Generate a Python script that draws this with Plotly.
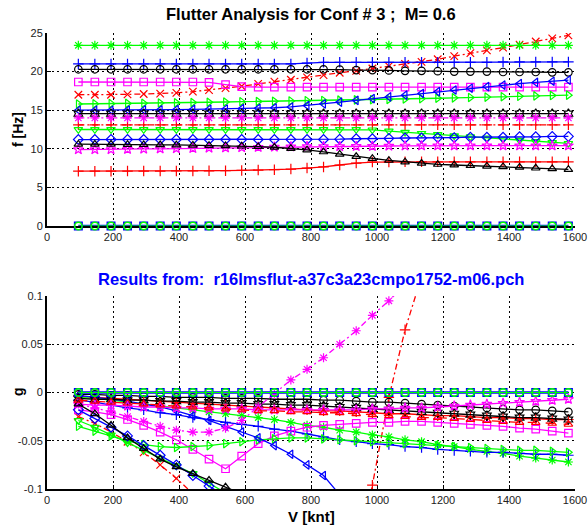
import plotly.graph_objects as go
from plotly.subplots import make_subplots

# ---------------- data ----------------
V_KNT = [95, 145, 194, 244, 293, 343, 392, 442, 491, 541, 590, 640, 689, 739, 788, 838,
         887, 937, 986, 1036, 1085, 1135, 1184, 1234, 1283, 1333, 1382, 1432, 1481, 1531, 1580]

# frequencies [Hz]
F_RIGID_A = [0.0, 0.0, 0.0, 0.0, 0.0, 0.0, 0.0, 0.0, 0.0, 0.0, 0.0, 0.0, 0.0, 0.0, 0.0, 0.0,
             0.0, 0.0, 0.0, 0.0, 0.0, 0.0, 0.0, 0.0, 0.0, 0.0, 0.0, 0.0, 0.0, 0.0, 0.0]
F_RIGID_B = [0.0, 0.0, 0.0, 0.0, 0.0, 0.0, 0.0, 0.0, 0.0, 0.0, 0.0, 0.0, 0.0, 0.0, 0.0, 0.0,
             0.0, 0.0, 0.0, 0.0, 0.0, 0.0, 0.0, 0.0, 0.0, 0.0, 0.0, 0.0, 0.0, 0.0, 0.0]
F_RED_PLUS = [7.10, 7.10, 7.10, 7.11, 7.12, 7.12, 7.13, 7.14, 7.15, 7.17, 7.20, 7.24, 7.30, 7.38, 7.50, 7.65,
              7.90, 8.15, 8.28, 8.30, 8.31, 8.31, 8.31, 8.31, 8.31, 8.31, 8.31, 8.31, 8.31, 8.31, 8.31]
F_RED_PLUS_DD = [13.1, 13.1, 13.1, 13.1, 13.1, 13.1, 13.1, 13.1, 13.1, 13.1, 13.1, 13.1, 13.1, 13.1, 13.1, 13.1,
                 13.1, 13.1, 13.1, 13.1, 13.1, 13.1, 13.1, 13.1, 13.1, 13.1, 13.1, 13.1, 13.1, 13.1, 13.1]
F_RED_X = [17.0, 17.0, 17.0, 17.05, 17.1, 17.15, 17.25, 17.4, 17.6, 17.85, 18.1, 18.4, 18.7, 18.95, 19.25, 19.55,
           19.85, 20.1, 20.4, 20.7, 21.0, 21.25, 21.6, 22.0, 22.4, 22.75, 23.1, 23.5, 23.9, 24.3, 24.7]
F_GREEN_STAR = [23.4, 23.4, 23.4, 23.4, 23.4, 23.4, 23.4, 23.4, 23.4, 23.4, 23.4, 23.4, 23.4, 23.4, 23.4, 23.4,
                23.4, 23.4, 23.4, 23.4, 23.4, 23.4, 23.4, 23.4, 23.4, 23.4, 23.4, 23.4, 23.4, 23.4, 23.4]
F_BLUE_PLUS = [21.0, 21.0, 21.0, 21.0, 21.0, 21.0, 21.0, 21.0, 21.0, 21.0, 21.0, 21.0, 21.0, 21.0, 21.1, 21.2,
               21.2, 21.2, 21.2, 21.2, 21.2, 21.2, 21.2, 21.2, 21.2, 21.2, 21.25, 21.25, 21.25, 21.25, 21.25]
F_BLACK_O = [20.3, 20.3, 20.3, 20.3, 20.3, 20.3, 20.3, 20.3, 20.3, 20.3, 20.3, 20.3, 20.3, 20.3, 20.3, 20.3,
             20.25, 20.2, 20.2, 20.15, 20.1, 20.1, 20.05, 20.0, 20.0, 20.0, 19.95, 19.95, 19.95, 19.9, 19.9]
F_MAG_SQ = [18.65, 18.65, 18.65, 18.65, 18.65, 18.65, 18.65, 18.65, 18.6, 18.3, 18.05, 18.0, 18.0, 18.0, 18.0, 18.0,
            18.0, 18.0, 18.0, 18.0, 18.0, 18.0, 18.0, 18.0, 18.0, 18.0, 18.0, 18.0, 18.0, 18.0, 18.0]
F_GREEN_TR = [15.8, 15.82, 15.85, 15.88, 15.9, 15.93, 15.96, 16.0, 16.03, 16.06, 16.1, 16.13, 16.16, 16.2, 16.23, 16.26,
              16.3, 16.33, 16.36, 16.4, 16.45, 16.5, 16.55, 16.6, 16.65, 16.7, 16.75, 16.8, 16.85, 16.9, 16.95]
F_BLUE_TL = [15.0, 15.0, 15.0, 15.02, 15.04, 15.06, 15.08, 15.1, 15.13, 15.16, 15.2, 15.25, 15.32, 15.42, 15.6, 15.82,
             16.05, 16.28, 16.5, 16.72, 16.95, 17.17, 17.4, 17.62, 17.85, 18.05, 18.25, 18.45, 18.6, 18.75, 18.9]
F_BLACK_HEX = [14.55, 14.55, 14.55, 14.55, 14.55, 14.55, 14.55, 14.55, 14.55, 14.55, 14.55, 14.55, 14.55, 14.55, 14.55, 14.55,
               14.55, 14.55, 14.55, 14.55, 14.55, 14.55, 14.55, 14.55, 14.55, 14.55, 14.55, 14.55, 14.55, 14.55, 14.55]
F_MAG_X = [14.0, 14.0, 14.0, 14.0, 14.0, 14.0, 14.0, 14.0, 14.0, 14.0, 14.0, 14.0, 14.0, 14.0, 14.0, 14.0,
           14.0, 14.0, 14.0, 14.0, 14.0, 14.0, 14.0, 14.0, 14.0, 14.0, 14.0, 14.0, 14.0, 14.0, 14.0]
F_GREEN_TD = [12.5, 12.5, 12.5, 12.5, 12.5, 12.5, 12.5, 12.5, 12.5, 12.5, 12.5, 12.5, 12.5, 12.5, 12.5, 12.5,
              12.5, 12.5, 12.45, 12.3, 12.15, 12.0, 11.85, 11.7, 11.55, 11.4, 11.25, 11.1, 10.95, 10.82, 10.7]
F_BLUE_DIA = [11.2, 11.2, 11.2, 11.2, 11.2, 11.2, 11.2, 11.2, 11.2, 11.2, 11.2, 11.2, 11.2, 11.2, 11.2, 11.2,
              11.25, 11.3, 11.3, 11.35, 11.4, 11.4, 11.45, 11.45, 11.5, 11.5, 11.5, 11.55, 11.55, 11.6, 11.6]
F_MAG_STAR = [9.9, 9.9, 9.92, 9.95, 9.98, 10.0, 10.03, 10.06, 10.1, 10.13, 10.16, 10.2, 10.23, 10.26, 10.3, 10.3,
              10.3, 10.32, 10.34, 10.36, 10.38, 10.4, 10.4, 10.4, 10.4, 10.4, 10.4, 10.4, 10.4, 10.4, 10.4]
F_BLACK_TU = [10.6, 10.6, 10.58, 10.56, 10.54, 10.52, 10.5, 10.47, 10.44, 10.4, 10.35, 10.28, 10.2, 10.05, 9.85, 9.6,
              9.3, 9.0, 8.75, 8.5, 8.3, 8.12, 7.98, 7.9, 7.82, 7.75, 7.68, 7.6, 7.5, 7.42, 7.33]

# damping g
G_RIGID_A = [0.0, 0.0, 0.0, 0.0, 0.0, 0.0, 0.0, 0.0, 0.0, 0.0, 0.0, 0.0, 0.0, 0.0, 0.0, 0.0,
             0.0, 0.0, 0.0, 0.0, 0.0, 0.0, 0.0, 0.0, 0.0, 0.0, 0.0, 0.0, 0.0, 0.0, 0.0]
G_RIGID_B = [0.0, 0.0, 0.0, 0.0, 0.0, 0.0, 0.0, 0.0, 0.0, 0.0, 0.0, 0.0, 0.0, 0.0, 0.0, 0.0,
             0.0, 0.0, 0.0, 0.0, 0.0, 0.0, 0.0, 0.0, 0.0, 0.0, 0.0, 0.0, 0.0, 0.0, 0.0]
G_RED_PLUS = [-0.004, -0.005, -0.006, -0.007, -0.008, -0.009, -0.010, -0.011, -0.012, -0.013, -0.014, -0.015, -0.016,
              -0.017, -0.018, -0.019, -0.019, -0.020, -0.021, -0.022, -0.022, -0.023, -0.024, -0.024, -0.025, -0.026,
              -0.026, -0.027, -0.027, -0.028, -0.028]
G_RED_PLUS_DD = [None, None, None, None, None, None, None, None, None, None, None, None, None, None, None, None,
                 None, -0.19, -0.096, -0.005, 0.065, 0.12, None, None, None, None, None, None, None, None, None]
G_RED_X = [-0.025, -0.032, -0.041, -0.051, -0.062, -0.075, -0.089, -0.104, -0.12, None, None, None, None, None, None,
           None, None, None, None, None, None, None, None, None, None, None, None, None, None, None, None]
G_GREEN_STAR = [-0.005, -0.006, -0.008, -0.010, -0.012, -0.014, -0.016, -0.018, -0.020, -0.022, -0.024, -0.026, -0.028,
                -0.031, -0.034, -0.036, -0.039, -0.041, -0.044, -0.046, -0.049, -0.051, -0.054, -0.056, -0.059, -0.061,
                -0.063, -0.066, -0.068, -0.070, -0.072]
G_BLUE_PLUS = [-0.008, -0.010, -0.013, -0.016, -0.018, -0.021, -0.023, -0.026, -0.028, -0.031, -0.033, -0.035, -0.038,
               -0.040, -0.043, -0.046, -0.049, -0.051, -0.053, -0.054, -0.056, -0.057, -0.059, -0.060, -0.061, -0.062,
               -0.062, -0.063, -0.064, -0.064, -0.065]
G_BLACK_O = [-0.002, -0.002, -0.003, -0.003, -0.004, -0.004, -0.005, -0.005, -0.005, -0.006, -0.006, -0.006, -0.007,
             -0.007, -0.007, -0.008, -0.008, -0.009, -0.010, -0.010, -0.011, -0.012, -0.013, -0.014, -0.015, -0.016,
             -0.017, -0.018, -0.018, -0.019, -0.020]
G_MAG_SQ = [-0.018, -0.020, -0.023, -0.028, -0.034, -0.041, -0.049, -0.059, -0.069, -0.079, -0.066, -0.053, -0.045,
            -0.040, -0.036, -0.034, -0.033, -0.032, -0.031, -0.031, -0.030, -0.030, -0.031, -0.032, -0.033, -0.034,
            -0.035, -0.037, -0.038, -0.040, -0.042]
G_GREEN_TR = [-0.035, -0.040, -0.045, -0.050, -0.054, -0.056, -0.057, -0.056, -0.055, -0.053, -0.051, -0.049, -0.048,
              -0.047, -0.047, -0.048, -0.049, -0.050, -0.051, -0.052, -0.053, -0.054, -0.055, -0.056, -0.057, -0.058,
              -0.059, -0.060, -0.060, -0.061, -0.062]
G_BLUE_TL = [-0.003, -0.005, -0.007, -0.009, -0.012, -0.015, -0.019, -0.024, -0.029, -0.035, -0.041, -0.047, -0.055,
             -0.064, -0.075, -0.086, -0.106, None, None, None, None, None, None, None, None, None, None, None, None,
             None, None]
G_BLACK_HEX = [-0.006, -0.007, -0.007, -0.008, -0.008, -0.009, -0.009, -0.010, -0.010, -0.011, -0.011, -0.012, -0.012,
               -0.013, -0.013, -0.014, -0.015, -0.016, -0.017, -0.018, -0.019, -0.020, -0.021, -0.022, -0.023, -0.024,
               -0.025, -0.026, -0.026, -0.027, -0.028]
G_MAG_X = [-0.012, -0.016, -0.020, -0.025, -0.030, -0.035, -0.039, -0.041, -0.041, -0.037, -0.029, -0.015, -0.002,
           0.013, 0.024, 0.036, 0.050, 0.064, 0.080, 0.095, 0.112, None, None, None, None, None, None, None, None,
           None, None]
G_GREEN_TD = [-0.029, -0.036, -0.044, -0.052, -0.060, -0.068, -0.076, -0.084, -0.094, -0.104, None, None, None, None,
              None, None, None, None, None, None, None, None, None, None, None, None, None, None, None, None, None]
G_BLUE_DIA = [-0.018, -0.027, -0.036, -0.045, -0.055, -0.065, -0.075, -0.086, -0.097, -0.108, None, None, None, None,
              None, None, None, None, None, None, None, None, None, None, None, None, None, None, None, None, None]
G_MAG_STAR = [-0.012, -0.013, -0.013, -0.014, -0.015, -0.015, -0.016, -0.016, -0.017, -0.017, -0.017, -0.018, -0.018,
              -0.018, -0.018, -0.018, -0.018, -0.018, -0.017, -0.017, -0.016, -0.016, -0.015, -0.014, -0.013, -0.012,
              -0.011, -0.010, -0.009, -0.008, -0.007]
G_BLACK_TU = [-0.012, -0.022, -0.034, -0.047, -0.058, -0.069, -0.077, -0.084, -0.091, -0.098, -0.105, None, None, None,
              None, None, None, None, None, None, None, None, None, None, None, None, None, None, None, None, None]
G_RED_TU = [-0.008, -0.009, -0.010, -0.011, -0.012, -0.013, -0.014, -0.015, -0.016, -0.017, -0.018, -0.019, -0.019,
            -0.020, -0.020, -0.021, -0.021, -0.022, -0.023, -0.024, -0.025, -0.026, -0.026, -0.027, -0.028, -0.029,
            -0.030, -0.031, -0.031, -0.032, -0.033]

X_TICKS = [0, 200, 400, 600, 800, 1000, 1200, 1400, 1600]
F_TICKS = [0, 5, 10, 15, 20, 25]
G_TICKS = [-0.1, -0.05, 0, 0.05, 0.1]
G_TICK_TEXT = ["-0.1", "-0.05", "0", "0.05", "0.1"]

RED, GREEN, BLUE, BLACK, MAG = "#ff0000", "#00ff00", "#0000ff", "#000000", "#ff00ff"
DASHDOT = "6px,3px,2px,3px"

# (f, g, colour, symbol, dash)
MODES = [
    (F_RED_PLUS, G_RED_PLUS, RED, "cross-thin-open", "solid"),
    (F_RED_PLUS_DD, G_RED_PLUS_DD, RED, "cross-thin-open", DASHDOT),
    (F_RED_X, G_RED_X, RED, "x-thin-open", DASHDOT),
    (F_GREEN_STAR, G_GREEN_STAR, GREEN, "asterisk-open", "solid"),
    (F_BLUE_PLUS, G_BLUE_PLUS, BLUE, "cross-thin-open", "solid"),
    (F_BLACK_O, G_BLACK_O, BLACK, "circle-open", "solid"),
    (F_MAG_SQ, G_MAG_SQ, MAG, "square-open", "solid"),
    (F_GREEN_TR, G_GREEN_TR, GREEN, "triangle-right-open", "solid"),
    (F_BLUE_TL, G_BLUE_TL, BLUE, "triangle-left-open", "solid"),
    (F_BLACK_HEX, G_BLACK_HEX, BLACK, "hexagram-open", "solid"),
    (F_MAG_X, G_MAG_X, MAG, "asterisk-open", DASHDOT),
    (F_GREEN_TD, G_GREEN_TD, GREEN, "triangle-down-open", "solid"),
    (F_BLUE_DIA, G_BLUE_DIA, BLUE, "diamond-open", "solid"),
    (F_MAG_STAR, G_MAG_STAR, MAG, "star-open", "solid"),
    (F_BLACK_TU, G_BLACK_TU, BLACK, "triangle-up-open", "solid"),
    (None, G_RED_TU, RED, "triangle-up-open", "dash"),
]
RIGID = [
    (F_RIGID_A, G_RIGID_A, BLUE, "square-open", 2.5),
    (F_RIGID_B, G_RIGID_B, GREEN, "circle-open", 1),
]

fig = make_subplots(rows=2, cols=1, vertical_spacing=70 / 456)

for f, g, col, sym, dash in MODES:
    mk = dict(symbol=sym, size=7.5, color=col, line=dict(color=col, width=1.2))
    ln = dict(color=col, width=1.3, dash=dash)
    if f is not None:
        fig.add_trace(go.Scatter(x=V_KNT, y=f, mode="lines+markers", line=ln, marker=mk,
                                 showlegend=False, hoverinfo="skip"), row=1, col=1)
    fig.add_trace(go.Scatter(x=V_KNT, y=g, mode="lines+markers", line=ln, marker=mk,
                             showlegend=False, hoverinfo="skip"), row=2, col=1)

for f, g, col, sym, lw in RIGID:
    mk = dict(symbol=sym, size=7.5, color=col, line=dict(color=col, width=1.5))
    ln = dict(color=col, width=lw)
    fig.add_trace(go.Scatter(x=V_KNT, y=f, mode="lines+markers", line=ln, marker=mk, cliponaxis=False,
                             showlegend=False, hoverinfo="skip"), row=1, col=1)
    fig.add_trace(go.Scatter(x=V_KNT, y=g, mode="lines+markers", line=ln, marker=mk, cliponaxis=False,
                             showlegend=False, hoverinfo="skip"), row=2, col=1)

ax_common = dict(showline=True, linewidth=2, linecolor="black", ticks="inside", ticklen=4,
                 tickcolor="black", showgrid=True, gridcolor="black", gridwidth=1,
                 griddash="2px,3px", zeroline=False, mirror=False, layer="below traces",
                 automargin=False,
                 tickfont=dict(family="Liberation Sans, Arial", size=11, color="#222"))

fig.update_xaxes(range=[0, 1600], tickvals=X_TICKS, **ax_common)
fig.update_yaxes(range=[0, 25], tickvals=F_TICKS, row=1, col=1, **ax_common)
fig.update_yaxes(range=[-0.1, 0.1], tickvals=G_TICKS, ticktext=G_TICK_TEXT, row=2, col=1, **ax_common)

bold = dict(family="Liberation Sans, Arial", color="black")
fig.update_layout(
    width=588, height=529,
    margin=dict(l=47, r=13, t=33, b=40, autoexpand=False),
    paper_bgcolor="white", plot_bgcolor="white",
    showlegend=False,
    hovermode=False,
    annotations=[
        dict(text="<b>Flutter Analysis for Conf # 3 ;\u00a0\u00a0M= 0.6</b>", xref="paper", yref="paper",
             x=0.5, y=1 + 19 / 456, xanchor="center", yanchor="middle", showarrow=False,
             font=dict(size=16.5, **bold)),
        dict(text="<b>Results from:\u00a0\u00a0r16lmsflut-a37c3a23cmpo1752-m06.pch</b>", xref="paper", yref="paper",
             x=0.5, y=(489 - 279) / 456, xanchor="center", yanchor="middle", showarrow=False,
             font=dict(size=16.5, family="Liberation Sans, Arial", color="#0000ff")),
        dict(text="<b>f [Hz]</b>", xref="paper", yref="paper", x=(18 - 47) / 528, y=(489 - 130) / 456,
             xanchor="center", yanchor="middle", textangle=-90, showarrow=False, font=dict(size=14, **bold)),
        dict(text="<b>g</b>", xref="paper", yref="paper", x=(18 - 47) / 528, y=(489 - 392) / 456,
             xanchor="center", yanchor="middle", textangle=-90, showarrow=False, font=dict(size=14, **bold)),
        dict(text="<b>V [knt]</b>", xref="paper", yref="paper", x=0.5, y=(489 - 516) / 456,
             xanchor="center", yanchor="middle", showarrow=False, font=dict(size=15, **bold)),
    ],
)

fig.write_html("out.html", config={"displayModeBar": False, "staticPlot": True},
               post_script="document.body.style.margin='0';")
